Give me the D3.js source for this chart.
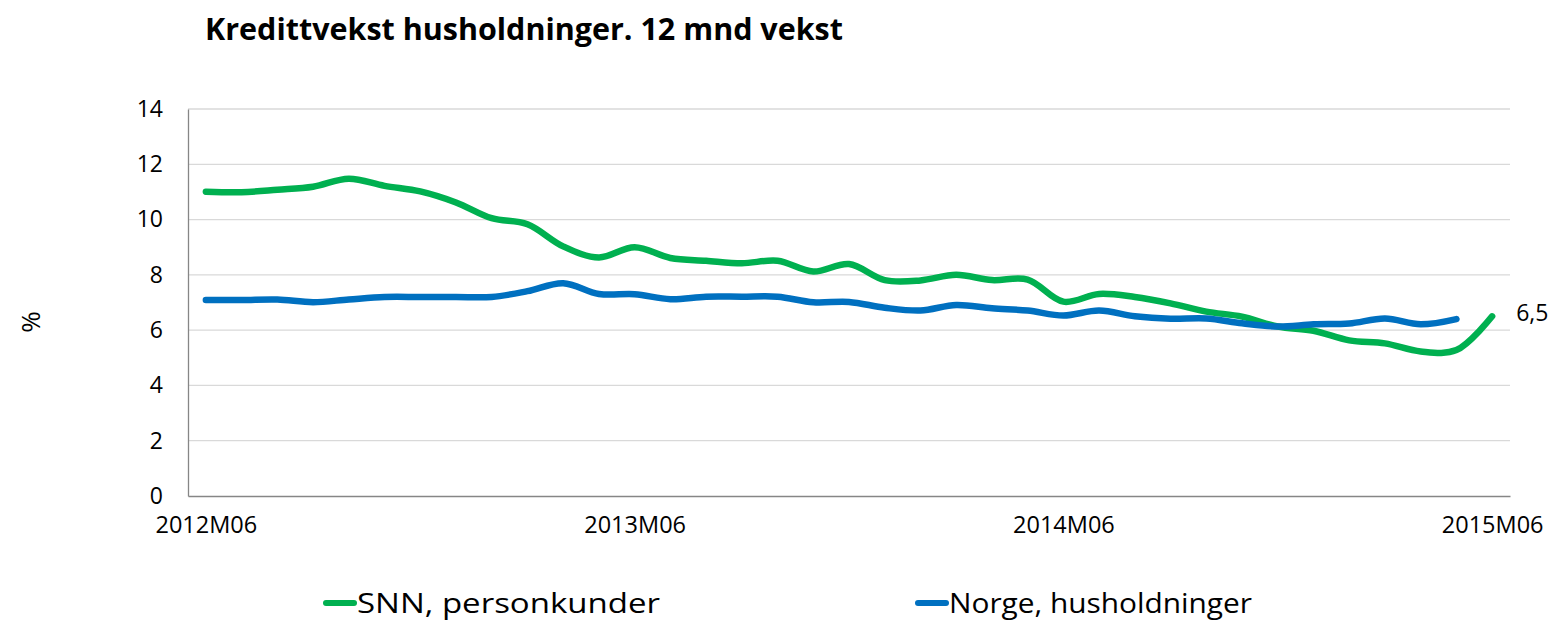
<!DOCTYPE html>
<html>
<head>
<meta charset="utf-8">
<script src="https://cdnjs.cloudflare.com/ajax/libs/d3/7.8.5/d3.min.js"></script>
<style>
  body { margin: 0; background: #fff; }
  text { font-family: "Open Sans", "Noto Sans", sans-serif; fill: #000; }
</style>
</head>
<body>
<div class="center"></div>
<script>
// chart data
var months = ["2012M06","2012M07","2012M08","2012M09","2012M10","2012M11","2012M12",
  "2013M01","2013M02","2013M03","2013M04","2013M05","2013M06","2013M07","2013M08",
  "2013M09","2013M10","2013M11","2013M12","2014M01","2014M02","2014M03","2014M04",
  "2014M05","2014M06","2014M07","2014M08","2014M09","2014M10","2014M11","2014M12",
  "2015M01","2015M02","2015M03","2015M04","2015M05","2015M06"];

var snn = [11.01, 10.99, 11.08, 11.19, 11.48, 11.22, 11.02, 10.62, 10.05, 9.83, 9.03, 8.63,
  9.0, 8.61, 8.51, 8.42, 8.51, 8.12, 8.39, 7.81, 7.8, 8.0, 7.81, 7.83,
  7.03, 7.31, 7.2, 6.97, 6.67, 6.49, 6.13, 5.98, 5.63, 5.52, 5.23, 5.28, 6.5];

var norge = [7.09, 7.09, 7.11, 7.01, 7.11, 7.2, 7.2, 7.2, 7.2, 7.41, 7.7, 7.31,
  7.3, 7.12, 7.21, 7.21, 7.21, 7.01, 7.02, 6.81, 6.71, 6.91, 6.79, 6.71,
  6.53, 6.71, 6.5, 6.41, 6.42, 6.25, 6.13, 6.21, 6.24, 6.42, 6.21, 6.4];

var xLabels = ["2012M06", "2013M06", "2014M06", "2015M06"];
var yTicks = [0, 2, 4, 6, 8, 10, 12, 14];
var seriesNames = ["SNN, personkunder", "Norge, husholdninger"];
var colors = ["#00b050", "#0070c0"];

var W = 1553, H = 620;
var margin = {top: 109, right: 43, bottom: 124, left: 188},
    width = W - margin.left - margin.right,
    height = H - margin.top - margin.bottom;

var svg = d3.select("div.center").append("svg")
    .attr("width", W)
    .attr("height", H);

var x = d3.scalePoint().domain(months).range([0, width]).padding(0.5);
var y = d3.scaleLinear().domain([0, 14]).range([height, 0]);

// title
svg.append("text")
    .attr("x", 205).attr("y", 40)
    .attr("font-size", 30).attr("font-weight", "bold")
    .attr("textLength", 638).attr("lengthAdjust", "spacingAndGlyphs")
    .text("Kredittvekst husholdninger. 12 mnd vekst");

var g = svg.append("g")
    .attr("transform", "translate(" + margin.left + "," + margin.top + ")");

// gridlines
g.selectAll("line.grid")
    .data(yTicks.filter(function(d) { return d > 0; }))
    .enter().append("line")
    .attr("class", "grid")
    .attr("x1", 0).attr("x2", width)
    .attr("y1", function(d) { return y(d); })
    .attr("y2", function(d) { return y(d); })
    .attr("stroke", "#d9d9d9").attr("stroke-width", 1.3);

// Y axis
var yAxis = g.append("g")
    .call(d3.axisLeft(y).tickValues(yTicks).tickSize(0).tickPadding(25));
yAxis.select(".domain").attr("stroke", "#868686").attr("stroke-width", 1.3);
yAxis.selectAll("text").attr("font-size", 23).attr("font-family", "Open Sans");

// X axis
var xAxis = g.append("g")
    .attr("transform", "translate(0," + height + ")")
    .call(d3.axisBottom(x).tickValues(xLabels).tickSize(0).tickPadding(20));
xAxis.select(".domain").attr("stroke", "#868686").attr("stroke-width", 1.3);
xAxis.selectAll("text").attr("font-size", 23.5).attr("font-family", "Open Sans");

// y title
svg.append("text")
    .attr("transform", "translate(40,322) rotate(-90)")
    .attr("text-anchor", "middle")
    .attr("font-size", 26)
    .text("%");

// lines
var line = d3.line()
    .x(function(d, i) { return x(months[i]); })
    .y(function(d) { return y(d); })
    .curve(d3.curveCatmullRom.alpha(0.5));

[snn, norge].forEach(function(s, k) {
    g.append("path")
        .datum(s)
        .attr("fill", "none")
        .attr("stroke", colors[k])
        .attr("stroke-width", 6.5)
        .attr("stroke-linecap", "round")
        .attr("stroke-linejoin", "round")
        .attr("d", line);
});

// end label
g.append("text")
    .attr("x", x(months[snn.length - 1]) + 24)
    .attr("y", y(snn[snn.length - 1]) - 3)
    .attr("dy", "0.35em")
    .attr("font-size", 23)
    .text(d3.format(".1f")(snn[snn.length - 1]).replace(".", ","));

// legend
var legendX = [326, 918];
seriesNames.forEach(function(name, k) {
    svg.append("line")
        .attr("x1", legendX[k]).attr("x2", legendX[k] + 28)
        .attr("y1", 603).attr("y2", 603)
        .attr("stroke", colors[k]).attr("stroke-width", 6)
        .attr("stroke-linecap", "round");
    svg.append("text")
        .attr("x", legendX[k] + 31).attr("y", 603)
        .attr("dy", "0.35em")
        .attr("font-size", 28)
        .attr("textLength", 303).attr("lengthAdjust", "spacingAndGlyphs")
        .text(name);
});
</script>
</body>
</html>
